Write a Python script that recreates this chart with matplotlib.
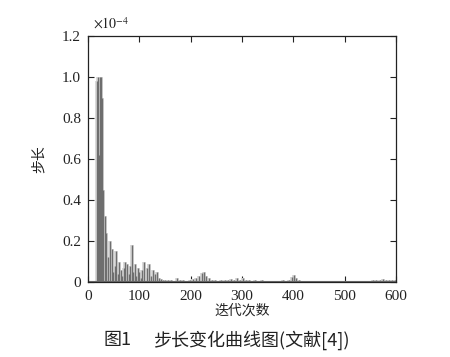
import matplotlib
matplotlib.use("Agg")
import matplotlib.pyplot as plt

# step size per iteration (units of 1e-4)
iters_head = [17, 19, 21, 24, 26, 28, 30, 33, 36, 39, 42, 46, 49, 52, 55, 58, 61,
              64, 67, 70, 73, 76, 79, 82, 85, 88, 91, 94, 97, 100, 103, 106, 110,
              114, 118, 122, 126, 130, 134, 138, 142, 146]
steps_head = [0.98, 1.0, 0.62, 1.0, 1.0, 0.9, 0.45, 0.32, 0.24, 0.12, 0.2, 0.16,
              0.05, 0.08, 0.15, 0.04, 0.1, 0.06, 0.03, 0.07, 0.1, 0.09, 0.04, 0.08,
              0.18, 0.05, 0.09, 0.03, 0.07, 0.05, 0.02, 0.06, 0.1, 0.07, 0.09, 0.03,
              0.06, 0.04, 0.05, 0.02, 0.015, 0.012]
iters_tail = [150, 156, 162, 168, 174, 180, 186, 192, 198, 204, 210, 216, 222, 226,
              230, 236, 242, 248, 254, 260, 266, 272, 278, 284, 290, 296, 302, 308,
              314, 320, 326, 332, 338, 344, 350, 356, 362, 368, 374, 380, 386, 392,
              398, 402, 406, 412, 418, 424, 430, 436, 442, 448, 454, 460, 466, 472,
              478, 484, 490, 496, 502, 508, 514, 520, 526, 532, 538, 544, 550, 556,
              562, 568, 574, 580, 586, 592, 598]
steps_tail = [0.012, 0.008, 0.01, 0.006, 0.018, 0.008, 0.012, 0.006, 0.01, 0.014,
              0.02, 0.03, 0.045, 0.05, 0.03, 0.02, 0.012, 0.008, 0.006, 0.01, 0.008,
              0.012, 0.015, 0.01, 0.02, 0.012, 0.018, 0.01, 0.008, 0.006, 0.01, 0.005,
              0.008, 0.006, 0.004, 0.007, 0.005, 0.006, 0.004, 0.008, 0.006, 0.012,
              0.025, 0.035, 0.02, 0.01, 0.006, 0.004, 0.005, 0.004, 0.003, 0.005,
              0.004, 0.003, 0.004, 0.003, 0.005, 0.004, 0.003, 0.004, 0.003, 0.005,
              0.003, 0.004, 0.003, 0.004, 0.005, 0.004, 0.006, 0.01, 0.012, 0.01,
              0.014, 0.012, 0.01, 0.008, 0.012]

xticks = [0, 100, 200, 300, 400, 500, 600]
yticks = [0, 0.2, 0.4, 0.6, 0.8, 1.0, 1.2]
ytick_labels = ["0", "0.2", "0.4", "0.6", "0.8", "1.0", "1.2"]

cjk = ["Noto Sans CJK SC", "DejaVu Sans"]
plt.rcParams["font.family"] = ["Liberation Serif", "DejaVu Serif"]
plt.rcParams["mathtext.fontset"] = "stix"

fig = plt.figure(figsize=(4.5, 3.57), dpi=100)
ax = fig.add_axes([0.1956, 0.21, 0.6844, 0.689])

iters = iters_head + iters_tail
steps = steps_head + steps_tail
ax.vlines(iters, 0, steps, color="#d8d8d8", lw=2.8)
ax.vlines(iters, 0, steps, color="#6e6e6e", lw=1.0)
ax.plot([0, 600], [0.003, 0.003], color="#6e6e6e", lw=0.8)

ax.set_xlim(0, 600)
ax.set_ylim(0, 1.2)
ax.set_xticks(xticks)
ax.set_yticks(yticks)
ax.set_yticklabels(ytick_labels)
ax.tick_params(direction="in", length=4, width=0.8, top=True, right=True,
               labelsize=11, colors="#222222")
ax.tick_params(axis="x", pad=6)
ax.tick_params(axis="y", pad=5)
for s in ax.spines.values():
    s.set_linewidth(0.9)
    s.set_color("#222222")

ax.text(0.015, 1.02, r"$\times10^{-4}$", transform=ax.transAxes, fontsize=10,
        ha="left", va="bottom", color="#222222")

ax.set_xlabel("迭代次数", family=cjk, fontsize=10, labelpad=0, color="#222222")
ax.set_ylabel("步长", family=cjk, fontsize=10, labelpad=12, color="#222222")

fig.text(0.229, 0.048, "图1", family=cjk, fontsize=13,
         ha="left", va="center", color="#222222")
fig.text(0.34, 0.048, "步长变化曲线图(文献[4])", family=cjk, fontsize=13,
         ha="left", va="center", color="#222222")

fig.savefig("out.png", dpi=100)
